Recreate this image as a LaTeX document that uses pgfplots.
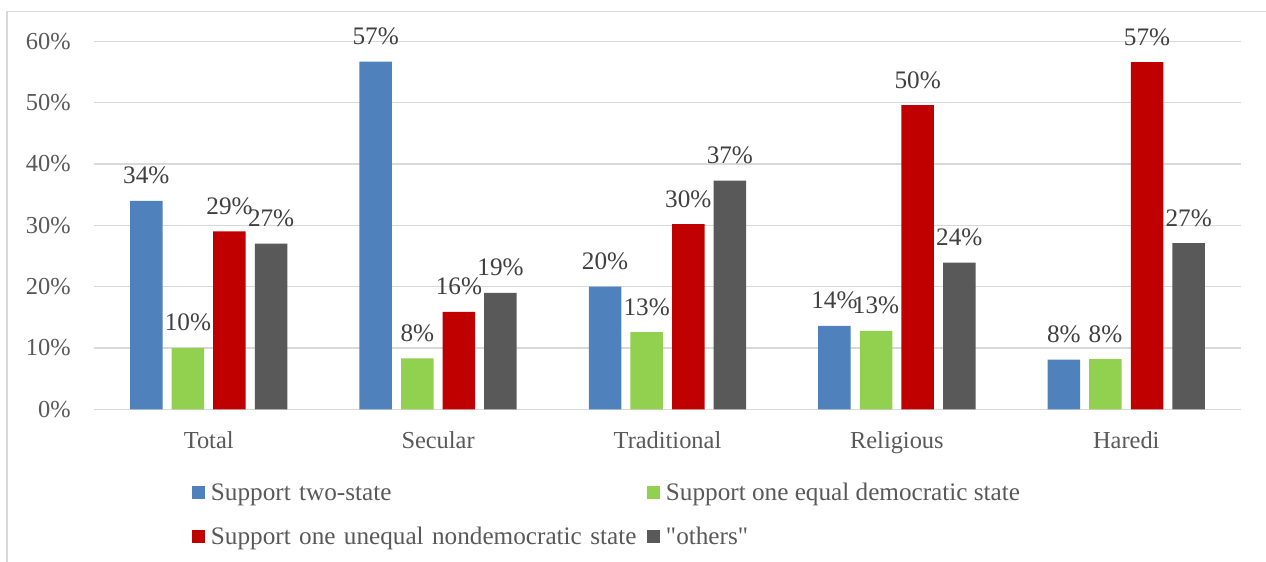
\documentclass[border=0pt]{standalone}
\usepackage{pgfplots}
\pgfplotsset{compat=1.18}
\usepackage{fontspec}
\setmainfont{Liberation Serif}[Ligatures=TeXOff]
\definecolor{cblue}{HTML}{4F81BD}
\definecolor{cgreen}{HTML}{92D050}
\definecolor{cred}{HTML}{C00000}
\definecolor{cgray}{HTML}{595959}
\definecolor{gridc}{HTML}{D9D9D9}
\definecolor{txt}{HTML}{595959}
\definecolor{lbl}{HTML}{404040}
\begin{document}
\begin{tikzpicture}
\path[use as bounding box] (-47pt,-76.35pt) rectangle (586pt,204.65pt);
\draw[gridc, line width=0.75pt] (-43.5pt,198.9pt) rectangle (600pt,-90pt);
\begin{axis}[
  at={(0pt,0pt)}, anchor=south west,
  scale only axis, width=573.5pt, height=184pt,
  xmin=-0.5, xmax=4.5, ymin=0, ymax=60,
  clip=false,
  axis line style={draw=none},
  major tick length=0pt,
  ymajorgrids, grid style={gridc, line width=0.6pt},
  ytick={0,10,...,60},
  yticklabels={0\%,10\%,20\%,30\%,40\%,50\%,60\%},
  xtick={0,1,2,3,4},
  xticklabels={Total,Secular,Traditional,Religious,Haredi},
  ticklabel style={font=\fontsize{12.2}{14}\selectfont, text=txt, inner sep=0pt},
  yticklabel style={anchor=east, xshift=-11.5pt},
  xticklabel style={anchor=base, yshift=-19.35pt},
  ybar, bar width=16.25pt,
  /pgf/number format/assume math mode=true,
  nodes near coords={\pgfmathprintnumber[fixed,precision=0]{\pgfplotspointmeta}\%},
  every node near coord/.append style={font=\fontsize{12.6}{14}\selectfont, text=lbl, inner sep=0pt, anchor=base, yshift=8.5pt},
  legend columns=2,
  legend cell align=left,
  legend image code/.code={\fill[#1] (0pt,-3.25pt) rectangle (6.5pt,3.25pt);},
  legend style={draw=none, fill=none, inner sep=0pt, outer sep=0pt,
    at={(0.08544,-0.1894)}, anchor=north west,
    column sep=0pt, row sep=8.5pt,
    nodes={inner sep=0pt, text height=10.5pt, text depth=3pt, font=\fontsize{12.6}{14}\selectfont, text=txt},
    /tikz/every odd column/.append style={column sep=3pt},
    /tikz/column 2/.append style={text width=218pt, align=left}},
]
\addplot[fill=cblue, draw=none, bar shift=-31.2pt] coordinates {(0,34.0) (1,56.7) (2,20.0) (3,13.6) (4,8.1)};
\addplot[fill=cgreen, draw=none, bar shift=-10.4pt] coordinates {(0,10.0) (1,8.3) (2,12.6) (3,12.8) (4,8.2)};
\addplot[fill=cred, draw=none, bar shift=10.4pt] coordinates {(0,29.0) (1,15.9) (2,30.2) (3,49.6) (4,56.6)};
\addplot[fill=cgray, draw=none, bar shift=31.2pt] coordinates {(0,27.0) (1,19.0) (2,37.3) (3,23.9) (4,27.1)};
\legend{Support two-state, Support one equal democratic state, Support one unequal nondemocratic state, "others"}
\end{axis}
\end{tikzpicture}
\end{document}
